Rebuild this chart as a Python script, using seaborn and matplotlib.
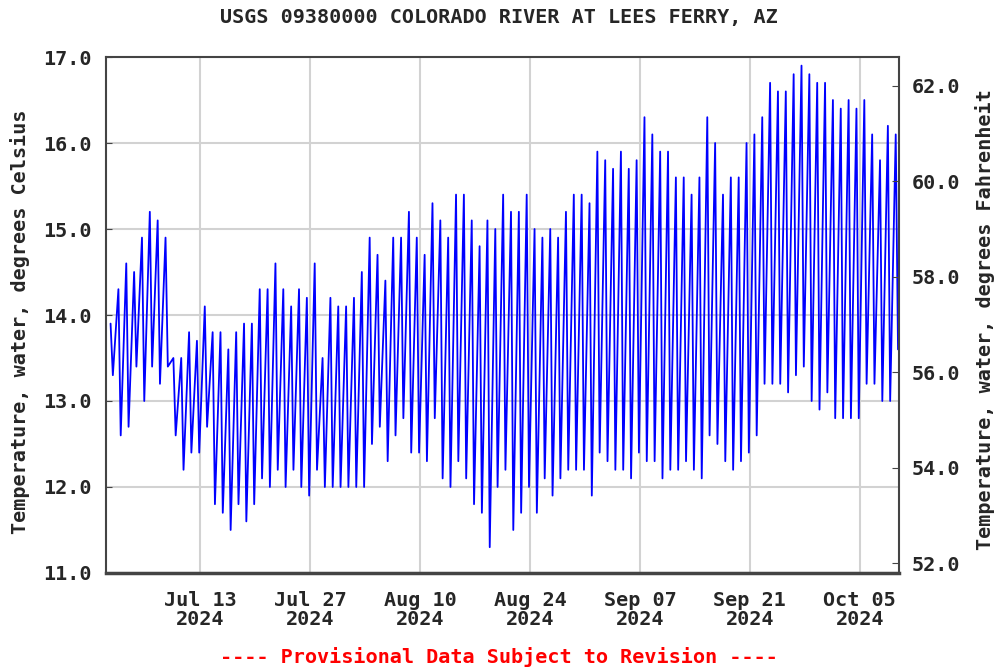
import numpy as np
import pandas as pd
import matplotlib
matplotlib.use("Agg")
import matplotlib.pyplot as plt
import seaborn as sns

# ---- data (Jul 1 - Oct 9 2024) ----
START_DATE = "2024-07-01"
END_DATE = "2024-10-10"

# daily high and low water temperature, degrees Celsius
daily_max = [
    13.9, 14.3, 14.6, 14.5, 14.9, 15.2, 15.1, 14.9, 13.5, 13.5,
    13.8, 13.7, 14.1, 13.8, 13.8, 13.6, 13.8, 13.9, 13.9, 14.3,
    14.3, 14.6, 14.3, 14.1, 14.3, 14.2, 14.6, 13.5, 14.2, 14.1,
    14.1, 14.2, 14.5, 14.9, 14.7, 14.4, 14.9, 14.9, 15.2, 14.9,
    14.7, 15.3, 15.1, 14.9, 15.4, 15.4, 15.1, 14.8, 15.1, 15.0,
    15.4, 15.2, 15.2, 15.4, 15.0, 14.9, 15.0, 14.9, 15.2, 15.4,
    15.4, 15.3, 15.9, 15.8, 15.7, 15.9, 15.7, 15.8, 16.3, 16.1,
    15.9, 15.9, 15.6, 15.6, 15.4, 15.6, 16.3, 16.0, 15.4, 15.6,
    15.6, 16.0, 16.1, 16.3, 16.7, 16.6, 16.6, 16.8, 16.9, 16.8,
    16.7, 16.7, 16.5, 16.4, 16.5, 16.4, 16.5, 16.1, 15.8, 16.2, 16.1,
]
daily_min = [
    13.3, 12.6, 12.7, 13.4, 13.0, 13.4, 13.2, 13.4, 12.6, 12.2,
    12.4, 12.4, 12.7, 11.8, 11.7, 11.5, 11.8, 11.6, 11.8, 12.1,
    12.0, 12.2, 12.0, 12.2, 12.0, 11.9, 12.2, 12.0, 12.0, 12.0,
    12.0, 12.0, 12.0, 12.5, 12.7, 12.3, 12.6, 12.8, 12.4, 12.4,
    12.3, 12.8, 12.1, 12.0, 12.3, 12.1, 11.8, 11.7, 11.3, 12.0,
    12.2, 11.5, 11.7, 12.0, 11.7, 12.1, 11.9, 12.1, 12.2, 12.2,
    12.2, 11.9, 12.4, 12.3, 12.2, 12.2, 12.1, 12.4, 12.3, 12.3,
    12.1, 12.2, 12.2, 12.3, 12.2, 12.1, 12.6, 12.5, 12.3, 12.2,
    12.3, 12.4, 12.6, 13.2, 13.2, 13.2, 13.1, 13.3, 13.4, 13.0,
    12.9, 13.1, 12.8, 12.8, 12.8, 12.8, 13.2, 13.2, 13.0, 13.0, 13.6,
]
PEAK_HOUR = 14
LOW_HOUR = 21

tick_dates = ["2024-07-13", "2024-07-27", "2024-08-10", "2024-08-24",
              "2024-09-07", "2024-09-21", "2024-10-05"]
c_ticks = [11, 12, 13, 14, 15, 16, 17]
f_ticks = [52, 54, 56, 58, 60, 62]

TITLE = "USGS 09380000 COLORADO RIVER AT LEES FERRY, AZ"
LEFT_LABEL = "Temperature, water, degrees Celsius"
RIGHT_LABEL = "Temperature, water, degrees Fahrenheit"
FOOTER = "---- Provisional Data Subject to Revision ----"

# ---- build the series: one high and one low per day ----
days = pd.date_range(START_DATE, periods=len(daily_max), freq="D")
peak_t = days + pd.Timedelta(hours=PEAK_HOUR)
low_t = days + pd.Timedelta(hours=LOW_HOUR)
times = np.ravel(np.column_stack([peak_t.values, low_t.values]))
temps = np.ravel(np.column_stack([daily_max, daily_min]))
df = pd.DataFrame({"time": times, "temp": temps})

sns.set_style("white")
plt.rcParams["font.family"] = ["DejaVu Sans Mono"]
plt.rcParams["font.weight"] = "bold"
plt.rcParams["font.size"] = 14.5

fig = plt.figure(figsize=(9.98, 6.70), dpi=100)
ax = fig.add_axes([0.1062, 0.1448, 0.7946, 0.7701])

sns.lineplot(data=df, x="time", y="temp", color="#0000ff", lw=1.3,
             estimator=None, ax=ax)

ax.set_xlim(pd.Timestamp(START_DATE), pd.Timestamp(END_DATE))
ax.set_ylim(c_ticks[0], c_ticks[-1])
ax.set_yticks(c_ticks)
ax.set_yticklabels([f"{v:.1f}" for v in c_ticks])
xt = pd.to_datetime(tick_dates)
ax.set_xticks(xt)
ax.set_xticklabels([d.strftime("%b %d\n%Y") for d in xt])
for lbl in ax.get_xticklabels():
    lbl.set_linespacing(1.0)

ax.set_xlabel("")
ax.set_ylabel("")
ax.grid(True, color="#d2d2d2", lw=1.5)
ax.set_axisbelow(True)
ax.tick_params(axis="y", direction="in", length=4, pad=10, color="#444444")
ax.tick_params(axis="x", length=0, pad=13)
for sp in ax.spines.values():
    sp.set_color("#444444")
    sp.set_linewidth(1.5)
ax.spines["bottom"].set_linewidth(2.5)

# Fahrenheit axis on the right
ax2 = ax.twinx()
ax2.set_ylim(c_ticks[0] * 9 / 5 + 32, c_ticks[-1] * 9 / 5 + 32)
ax2.set_yticks(f_ticks)
ax2.set_yticklabels([f"{v:.1f}" for v in f_ticks])
ax2.tick_params(axis="y", direction="in", length=5, pad=9, color="#444444")
for sp in ax2.spines.values():
    sp.set_visible(False)

fig.text(0.5, 1 - 18 / 670, TITLE, ha="center", va="center")
fig.text(20 / 998, 1 - 322 / 670, LEFT_LABEL, rotation=90,
         ha="center", va="center")
fig.text(985 / 998, 1 - 320 / 670, RIGHT_LABEL, rotation=90,
         ha="center", va="center")
fig.text(0.5, 1 - 657 / 670, FOOTER, ha="center", va="center", color="#ff0000")

fig.savefig("out.png", dpi=100)
